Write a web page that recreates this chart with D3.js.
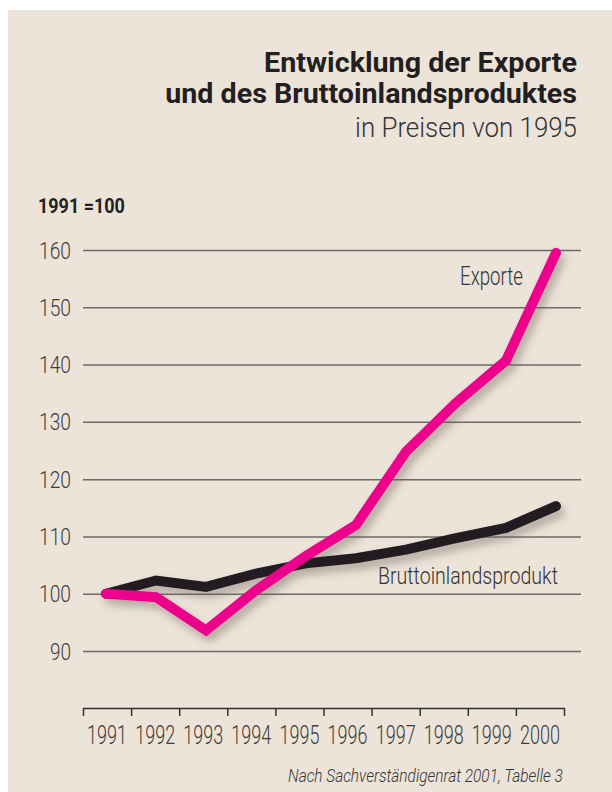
<!DOCTYPE html>
<html>
<head>
<meta charset="utf-8">
<script src="https://cdn.jsdelivr.net/npm/d3@7"></script>
<style>
  html, body { margin: 0; padding: 0; background: #fff; }
  svg { display: block; }
  text { font-family: Roboto, "DejaVu Sans Condensed", sans-serif; }
</style>
</head>
<body>
<svg id="chart" width="612" height="792"></svg>
<script>
const years = [1991, 1992, 1993, 1994, 1995, 1996, 1997, 1998, 1999, 2000]
const exporte = [100, 99.4, 93.6, 100.6, 106.6, 112, 124.8, 133.3, 140.7, 159.5]
const bip = [100, 102.3, 101.2, 103.5, 105.3, 106.2, 107.7, 109.7, 111.5, 115.3]
const yTicks = [90, 100, 110, 120, 130, 140, 150, 160]

const titleLines = ["Entwicklung der Exporte", "und des Bruttoinlandsproduktes"]
const subtitle = "in Preisen von 1995"
const unitLabel = "1991 =100"
const source = "Nach Sachverständigenrat 2001, Tabelle 3"

const svg = d3.select("#chart")

// the original face is a condensed grotesque: squeeze each text
// horizontally (via transform, so boxes shrink too) to the reference width
function squeeze(sel, w){
    sel.each(function(d, i){
        let t = d3.select(this)
        let width = typeof w === "function" ? w(d, i) : w
        let x = +t.attr("x") || 0, y = +t.attr("y") || 0
        let len = this.getComputedTextLength()
        let prev = t.attr("transform") || ""
        t.attr("x", 0).attr("y", 0)
         .attr("transform", `${prev} translate(${x},${y}) scale(${width / len},1)`)
    })
    return sel
}

// paper background
svg.append("rect")
    .attr("x", 8).attr("y", 10)
    .attr("width", 604).attr("height", 782)
    .attr("fill", "#ece3d9")

let defs = svg.append("defs")
defs.append("filter")
    .attr("id", "shadow")
    .attr("x", "-20%").attr("y", "-20%")
    .attr("width", "140%").attr("height", "140%")
  .append("feDropShadow")
    .attr("dx", 4).attr("dy", 6)
    .attr("stdDeviation", 4)
    .attr("flood-color", "#6b5f55")
    .attr("flood-opacity", 0.45)

// title block, right aligned
let titleWidths = [313, 412]
let title = svg.append("g").attr("text-anchor", "end").attr("fill", "#231f20")
title.selectAll("text.title")
    .data(titleLines)
    .enter().append("text")
    .attr("class", "title")
    .attr("x", 577)
    .attr("y", (d, i) => 72 + i * 31)
    .attr("font-size", 28)
    .attr("font-weight", "bold")
    .text(d => d)
    .call(squeeze, (d, i) => titleWidths[i])
title.append("text")
    .attr("x", 577).attr("y", 137)
    .attr("font-size", 28)
    .attr("font-weight", 300)
    .attr("fill", "#333")
    .text(subtitle)
    .call(squeeze, 222)

svg.append("text")
    .attr("x", 38).attr("y", 213)
    .attr("font-size", 21)
    .attr("font-weight", "bold")
    .attr("fill", "#231f20")
    .text(unitLabel)
    .call(squeeze, 87)

// scales
const y = d3.scaleLinear().domain([90, 160]).range([651, 250])
const xLine = d3.scaleLinear().domain([1991, 2000]).range([106, 556])
const xAxisScale = d3.scaleLinear().domain([1991, 2001]).range([83, 564])

// grid + y labels
let yAxis = svg.append("g")
    .attr("transform", "translate(83,0)")
    .call(d3.axisLeft(y).tickValues(yTicks).tickSize(-498).tickPadding(12))
yAxis.select(".domain").remove()
yAxis.selectAll(".tick line").attr("stroke", "#6e6a66").attr("stroke-width", 1.5)
yAxis.selectAll(".tick text")
    .attr("font-size", 24)
    .attr("font-weight", 300)
    .attr("font-family", "Roboto, sans-serif")
    .attr("fill", "#3f3c3a")
    .attr("dy", null)
    .attr("y", 8)
    .call(squeeze, d => d >= 100 ? 32 : 21)

// x axis, ticks at band edges, labels in between
let xAxis = svg.append("g")
    .attr("transform", "translate(0,708)")
    .call(d3.axisBottom(xAxisScale).tickValues(d3.range(1991, 2002)).tickSize(8).tickSizeOuter(0).tickFormat(""))
xAxis.select(".domain").attr("stroke", "#333").attr("stroke-width", 1.5)
xAxis.selectAll(".tick line").attr("stroke", "#333").attr("stroke-width", 1.5)

svg.append("g").selectAll("text.year")
    .data(years)
    .enter().append("text")
    .attr("class", "year")
    .attr("x", d => xAxisScale(d + 0.5))
    .attr("y", 744)
    .attr("text-anchor", "middle")
    .attr("font-size", 26)
    .attr("font-weight", 300)
    .attr("fill", "#3f3c3a")
    .text(d => d)
    .call(squeeze, 40)

// lines
let line = d3.line()
    .x((d, i) => xLine(years[i]))
    .y(d => y(d))

let lines = svg.append("g").attr("filter", "url(#shadow)")
lines.append("path")
    .datum(bip)
    .attr("d", line)
    .attr("fill", "none")
    .attr("stroke", "#231f20")
    .attr("stroke-width", 10)
    .attr("stroke-linecap", "round")
    .attr("stroke-linejoin", "miter")
lines.append("path")
    .datum(exporte)
    .attr("d", line)
    .attr("fill", "none")
    .attr("stroke", "#ec008c")
    .attr("stroke-width", 10)
    .attr("stroke-linecap", "round")
    .attr("stroke-linejoin", "miter")

// series labels
svg.append("text")
    .attr("x", 460).attr("y", 285)
    .attr("font-size", 25)
    .attr("font-weight", 300)
    .attr("fill", "#333")
    .text("Exporte")
    .call(squeeze, 63)
svg.append("text")
    .attr("x", 378).attr("y", 584)
    .attr("font-size", 23)
    .attr("font-weight", 300)
    .attr("fill", "#333")
    .text("Bruttoinlandsprodukt")
    .call(squeeze, 180)

svg.append("text")
    .attr("x", 288).attr("y", 782)
    .attr("font-size", 18)
    .attr("font-style", "italic")
    .attr("font-weight", 300)
    .attr("fill", "#333")
    .text(source)
    .call(squeeze, 275)
</script>
</body>
</html>
